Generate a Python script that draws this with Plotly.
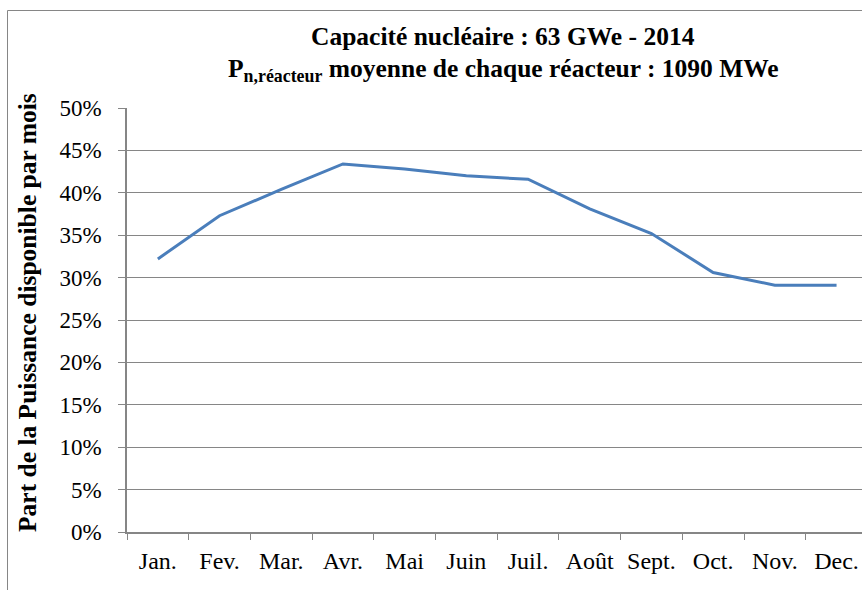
import plotly.graph_objects as go

months = ["Jan.", "Fev.", "Mar.", "Avr.", "Mai", "Juin", "Juil.", "Août",
          "Sept.", "Oct.", "Nov.", "Dec."]
share = [0.322, 0.373, 0.404, 0.434, 0.428, 0.420, 0.416, 0.381,
         0.352, 0.306, 0.291, 0.291]

title_line1 = "Capacité nucléaire : 63 GWe - 2014"
title_line2 = "P<sub>n,réacteur</sub> moyenne de chaque réacteur : 1090 MWe"
y_title = "Part de la Puissance disponible par mois"

W, H = 862, 590
ML, MR, MT = 127, 0, 108
MB = H - 532
pw = W - ML - MR
ph = H - MT - MB


def px_x(x):
    # page pixel -> paper coordinate
    return (x - ML) / pw


def px_y(y):
    return (H - MB - y) / ph


serif = "Liberation Serif"
grey = "#868686"

fig = go.Figure(
    go.Scatter(
        x=months,
        y=share,
        mode="lines",
        line=dict(color="#4A7EBB", width=3),
        hoverinfo="x+y",
    )
)

fig.update_layout(
    width=W,
    height=H,
    margin=dict(l=ML, r=MR, t=MT, b=MB),
    paper_bgcolor="white",
    plot_bgcolor="white",
    showlegend=False,
    font=dict(family=serif, color="black"),
    xaxis=dict(
        type="category",
        range=[-0.5, -0.5 + pw / 61.7],
        tickson="boundaries",
        ticks="outside",
        ticklen=6,
        tickcolor=grey,
        showgrid=False,
        showline=True,
        linecolor=grey,
        linewidth=1.5,
        tickfont=dict(size=24, family=serif),
        ticklabelstandoff=6,
        automargin=False,
    ),
    yaxis=dict(
        range=[0, 0.5],
        dtick=0.05,
        tickformat=".0%",
        ticks="outside",
        ticklen=7,
        tickcolor=grey,
        showgrid=True,
        gridcolor=grey,
        gridwidth=1,
        showline=True,
        linecolor=grey,
        linewidth=1.5,
        zeroline=False,
        tickfont=dict(size=23, family=serif),
        ticklabelstandoff=12,
        automargin=False,
    ),
    shapes=[
        dict(
            type="rect",
            xref="paper", yref="paper",
            x0=px_x(7.5), x1=px_x(900),
            y0=px_y(700), y1=px_y(10.5),
            line=dict(color=grey, width=1),
            fillcolor="rgba(0,0,0,0)",
            layer="below",
        )
    ],
    annotations=[
        dict(
            text=title_line1,
            xref="paper", yref="paper",
            x=px_x(503), y=px_y(37),
            xanchor="center", yanchor="middle",
            showarrow=False,
            font=dict(size=25.5, family=serif, weight="bold"),
        ),
        dict(
            text=title_line2,
            xref="paper", yref="paper",
            x=px_x(503), y=px_y(70),
            xanchor="center", yanchor="middle",
            showarrow=False,
            font=dict(size=25.5, family=serif, weight="bold"),
        ),
        dict(
            text=y_title,
            xref="paper", yref="paper",
            x=px_x(27), y=px_y(313),
            xanchor="center", yanchor="middle",
            textangle=-90,
            showarrow=False,
            font=dict(size=25.5, family=serif, weight="bold"),
        ),
    ],
)

fig.write_html(
    "out.html",
    config={"displayModeBar": False},
    post_script="document.body.style.margin='0';",
)
